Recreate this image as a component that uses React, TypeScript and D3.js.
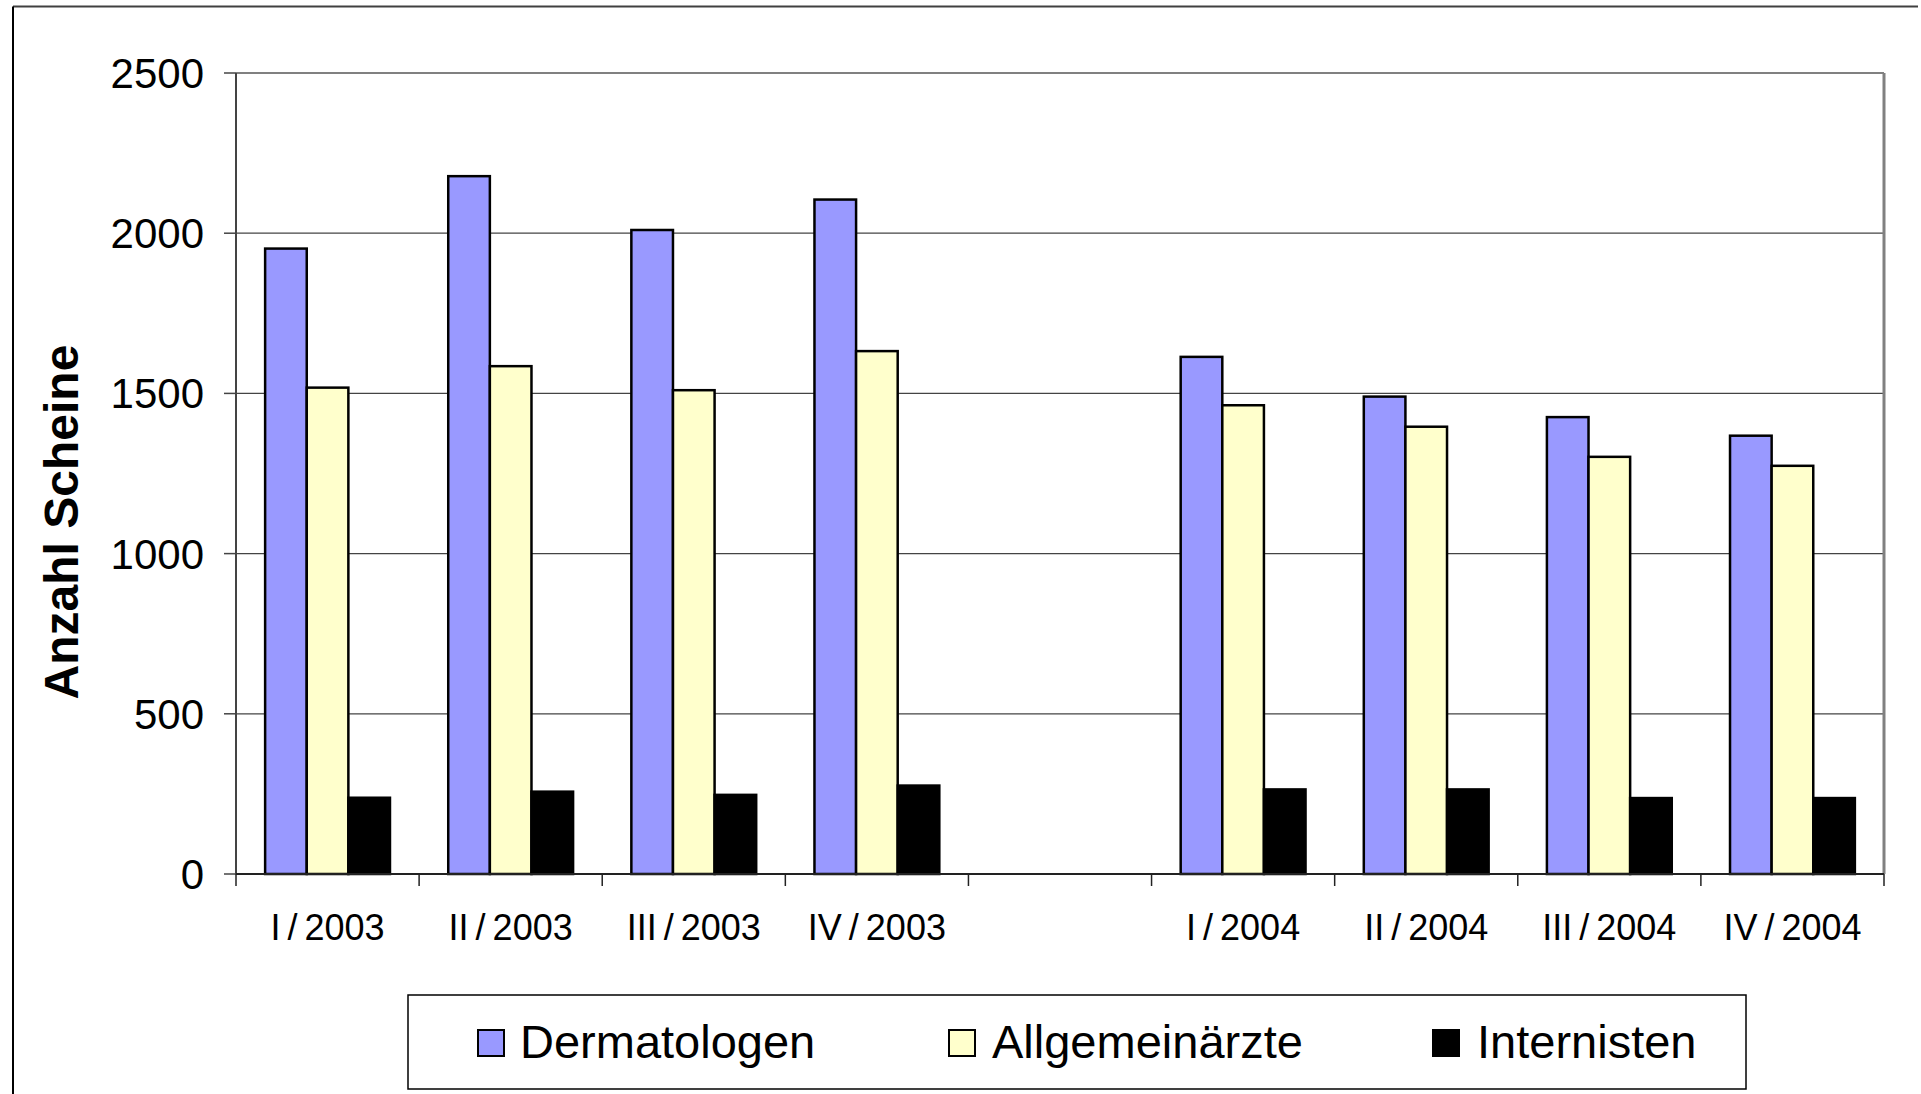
import React from "react";
import * as d3 from "d3";

const categories = ["I / 2003", "II / 2003", "III / 2003", "IV / 2003", "", "I / 2004", "II / 2004", "III / 2004", "IV / 2004"];
const seriesNames = ["Dermatologen", "Allgemeinärzte", "Internisten"];
const dermatologen: (number | null)[] = [1952, 2178, 2010, 2105, null, 1614, 1490, 1426, 1368];
const allgemeinaerzte: (number | null)[] = [1518, 1585, 1510, 1632, null, 1463, 1396, 1302, 1274];
const internisten: (number | null)[] = [238, 257, 247, 276, null, 264, 264, 237, 237];
const yTicks = [0, 500, 1000, 1500, 2000, 2500];
const colors = ["#9999FF", "#FFFFCC", "#000000"];

const W = 1921;
const H = 1094;
const FONT = "'Liberation Sans', Arial, Helvetica, sans-serif";

export default function App() {
  const left = 236, right = 1884, top = 73, bottom = 874;
  const x0 = d3.scaleBand<number>().domain(categories.map((_, i) => i)).range([left, right]).padding(0);
  const slot = x0.bandwidth();
  const bw = slot / 4.4;
  const x1 = d3.scaleBand<number>().domain([0, 1, 2]).range([0, 3 * bw]).padding(0);
  const y = d3.scaleLinear().domain([0, 2500]).range([bottom, top]);
  const series = [dermatologen, allgemeinaerzte, internisten];

  const legendItems = [
    { sx: 478, tx: 520 },
    { sx: 949, tx: 992 },
    { sx: 1433, tx: 1477 },
  ];

  return (
    <svg width={W} height={H} style={{ position: "absolute", left: 0, top: 0, background: "#fff" }} fontFamily={FONT}>
      <rect x={0} y={0} width={W} height={H} fill="#fff" />
      {/* outer border (top and left visible) */}
      <line x1={13} y1={6.5} x2={1918} y2={6.5} stroke="#404040" strokeWidth={2} />
      <line x1={13} y1={6.5} x2={13} y2={H} stroke="#000" strokeWidth={2} />

      {/* gridlines */}
      {yTicks.filter((t) => t > 0 && t < 2500).map((t) => (
        <line key={t} x1={left} x2={right} y1={y(t)} y2={y(t)} stroke="#444" strokeWidth={1.3} />
      ))}
      {/* plot area border */}
      <line x1={left} x2={right} y1={top} y2={top} stroke="#808080" strokeWidth={2} />
      <line x1={right} x2={right} y1={top} y2={bottom} stroke="#808080" strokeWidth={3} />

      {/* bars */}
      {categories.map((c, i) => {
        const gx = (x0(i) as number) + (slot - 3 * bw) / 2;
        return series.map((s, k) => {
          const v = s[i];
          if (v == null) return null;
          return (
            <rect
              key={`${i}-${k}`}
              x={gx + (x1(k) as number)}
              y={y(v)}
              width={bw}
              height={bottom - y(v)}
              fill={colors[k]}
              stroke="#000"
              strokeWidth={2.5}
            />
          );
        });
      })}

      {/* y axis */}
      <line x1={left} x2={left} y1={top} y2={bottom} stroke="#444" strokeWidth={2} />
      {yTicks.map((t) => (
        <g key={t}>
          <line x1={left - 12} x2={left} y1={y(t)} y2={y(t)} stroke="#444" strokeWidth={1.5} />
          <text x={204} y={y(t) + 15} textAnchor="end" fontSize={42} fill="#000">
            {t}
          </text>
        </g>
      ))}

      {/* x axis */}
      <line x1={left} x2={right} y1={bottom} y2={bottom} stroke="#222" strokeWidth={2} />
      {d3.range(categories.length + 1).map((i) => {
        const xx = left + i * slot;
        return <line key={i} x1={xx} x2={xx} y1={bottom} y2={bottom + 12} stroke="#222" strokeWidth={1.5} />;
      })}
      {categories.map((c, i) => (
        <text key={i} x={(x0(i) as number) + slot / 2} y={940} textAnchor="middle" fontSize={36} fill="#000" wordSpacing={-3}>
          {c}
        </text>
      ))}

      {/* y title */}
      <text
        transform={`translate(78, 522) rotate(-90)`}
        textAnchor="middle"
        fontSize={48}
        fontWeight="bold"
        fill="#000"
      >
        Anzahl Scheine
      </text>

      {/* legend */}
      <rect x={408} y={995} width={1338} height={94} fill="#fff" stroke="#000" strokeWidth={1.5} />
      {seriesNames.map((n, k) => (
        <g key={n}>
          <rect x={legendItems[k].sx} y={1030} width={26} height={26} fill={colors[k]} stroke="#000" strokeWidth={2} />
          <text x={legendItems[k].tx} y={1058} fontSize={47} fill="#000">
            {n}
          </text>
        </g>
      ))}
    </svg>
  );
}
